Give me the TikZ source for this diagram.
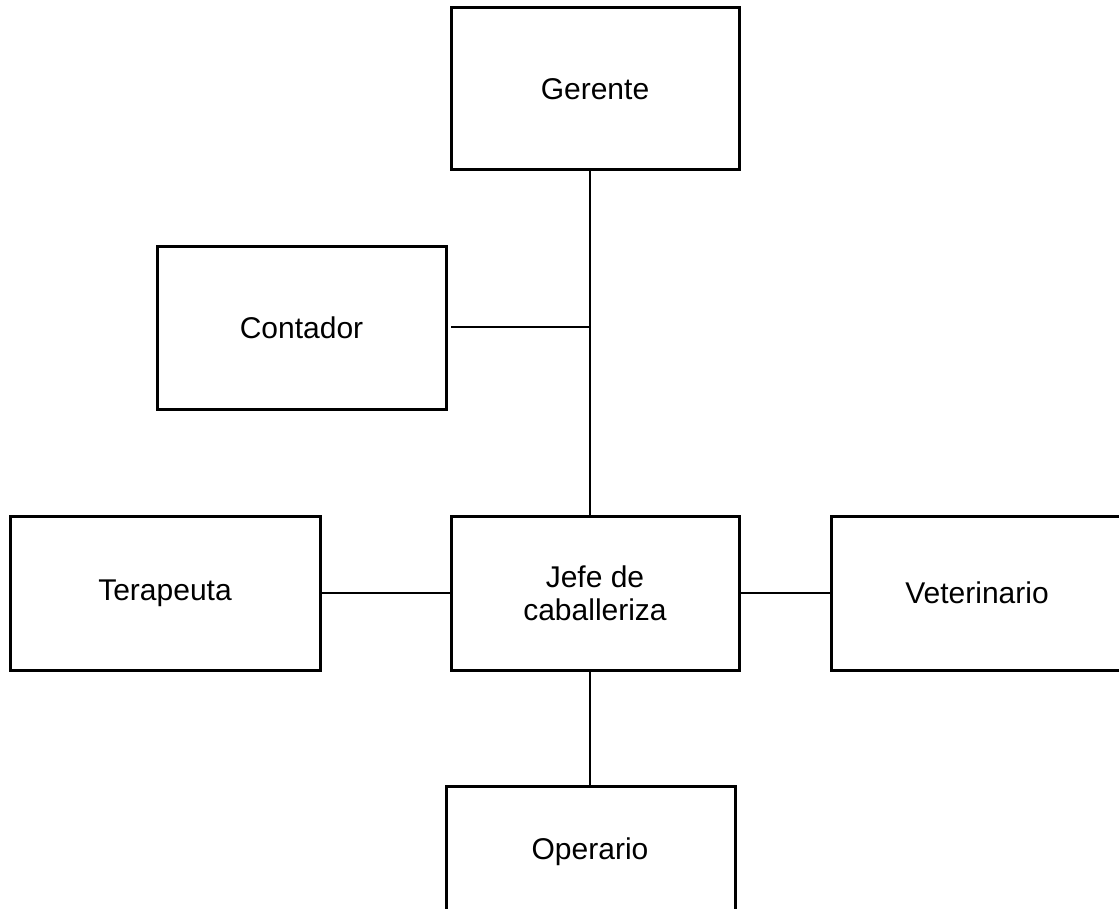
\documentclass[tikz,border=0pt]{standalone}
\usepackage{fontspec}
\setmainfont{Liberation Sans}
\begin{document}
\begin{tikzpicture}[x=1pt,y=-1pt,
  box/.style={draw=black,line width=3pt,fill=white,inner sep=0pt,font=\fontsize{30}{33}\selectfont,align=center},
  conn/.style={draw=black,line width=2pt}]
\useasboundingbox (0,0) rectangle (1119,909);
\clip (0,0) rectangle (1119,909);
\node[box,minimum width=288pt,minimum height=162pt] (ger) at (595,89) {Gerente};
\node[box,minimum width=289pt,minimum height=162pt] (con) at (301.5,328) {Contador};
\node[box,minimum width=310pt,minimum height=154pt] (ter) at (165,593) {Terapeuta};
\node[box,minimum width=288pt,minimum height=154pt] (jef) at (595,593) {Jefe de\\caballeriza};
\node[box,minimum width=292pt,minimum height=154pt] (vet) at (977,593) {Veterinario};
\node[box,minimum width=289pt,minimum height=162pt,anchor=north] (ope) at (590.5,785) {};
\node[font=\fontsize{30}{33}\selectfont] (opel) at (590,852) {Operario};
\coordinate (gtop) at (590,170);
\coordinate (jtop) at (590,516);
\coordinate (cj) at (590,327);
\coordinate (cs) at (451,327);
\coordinate (jbot) at (590,670);
\coordinate (otop) at (590,785);
\draw[conn] (gtop) -- (jtop);
\draw[conn] (cs) -- (cj);
\draw[conn] (ter.east) -- (jef.west);
\draw[conn] (jef.east) -- (vet.west);
\draw[conn] (jbot) -- (otop);
\end{tikzpicture}
\end{document}
